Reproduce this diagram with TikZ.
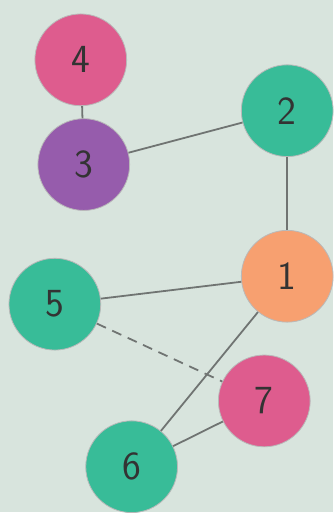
\documentclass[tikz,border=0pt]{standalone}
\usepackage{xcolor}
\usepackage{tikz}
\usetikzlibrary{positioning,calc}
\definecolor{paper}{RGB}{216,228,221}
\definecolor{rosa}{RGB}{222,92,142}
\definecolor{lila}{RGB}{150,92,172}
\definecolor{verde}{RGB}{56,188,152}
\definecolor{naranja}{RGB}{247,160,112}
\definecolor{trazo}{RGB}{112,116,114}

\begin{document}
\begin{tikzpicture}[x=0.5pt,y=-0.5pt,
    vert/.style={circle,draw=gray!55,line width=0.4pt,minimum size=46pt,inner sep=0pt,
      font=\sffamily\fontsize{20}{20}\selectfont,text=black!80},
    arista/.style={draw=trazo,line width=0.9pt},
    punteada/.style={arista,dash pattern=on 5pt off 3.5pt}]
    % Fondo del papel.
    \fill[paper] (0,0) rectangle (334,513);

    % Vértices.
    \node[vert,fill=rosa] (n4) at (81,60) {4};
    \node[vert,fill=lila] (n3) at (84,165) {3};
    \node[vert,fill=verde] (n2) at (288,111) {2};
    \node[vert,fill=naranja] (n1) at (288,277) {1};
    \node[vert,fill=verde] (n5) at (55,305) {5};
    \node[vert,fill=rosa] (n7) at (265,402) {7};
    \node[vert,fill=verde] (n6) at (132,468) {6};

    % Aristas.
    \draw[arista] (n4) -- (n3);
    \draw[arista] (n3) -- (n2);
    \draw[arista] (n2) -- (n1);
    \draw[arista] (n5) -- (n1);
    \draw[arista] (n1) -- (n6);
    \draw[arista] (n7) -- (n6);
    \draw[punteada] (n5) -- (n7);
  \end{tikzpicture}
\end{document}
